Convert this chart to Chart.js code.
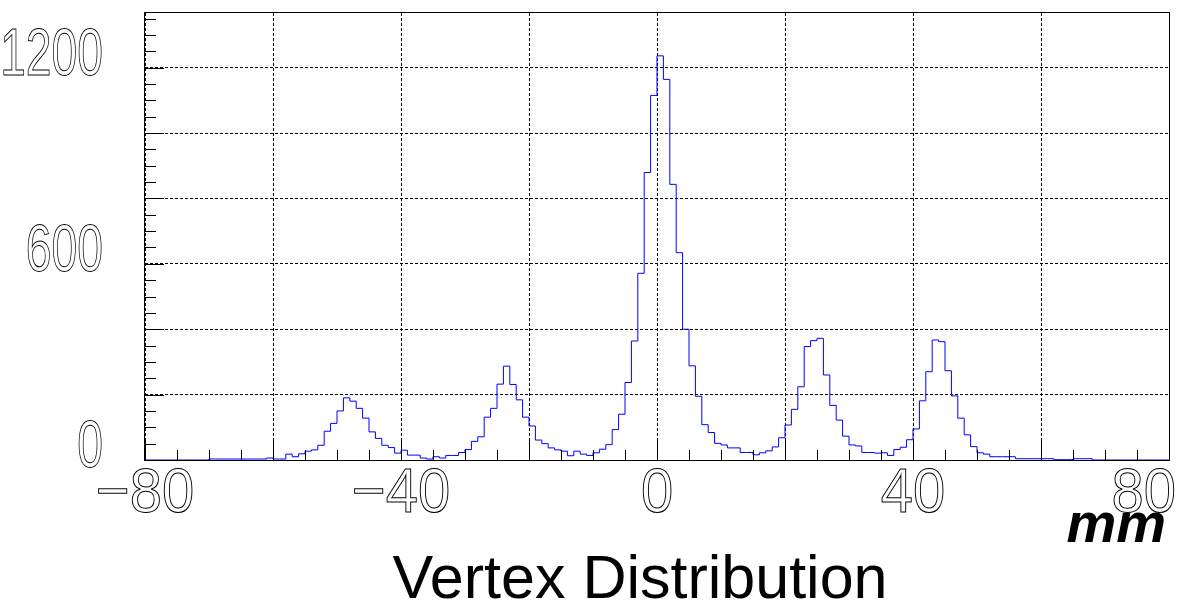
<!DOCTYPE html>
<html lang="en">
<head>
<meta charset="UTF-8">
<title>Vertex Distribution</title>
<script src="https://cdn.jsdelivr.net/npm/chart.js"></script>
<style>
  html, body { margin: 0; padding: 0; background: #fff; }
</style>
</head>
<body>
<canvas id="vtx" width="1177" height="602"></canvas>
<script>
// histogram, 1 mm bins starting at -80 mm
const binStart = -80;
const binWidth = 1;
const counts = [
  0, 0, 0, 0, 0, 0, 0, 0, 0, 0,               // -80 .. -71
  3, 3, 3, 3, 3, 3, 3, 3, 3, 6,               // -70 .. -61
  3, 3, 18, 10, 19, 27, 31, 45, 88, 112,      // -60 .. -51
  150, 190, 180, 158, 128, 86, 66, 45, 38, 21,// -50 .. -41
  30, 15, 15, 6, 3, 10, 6, 14, 14, 23,        // -40 .. -31
  32, 57, 71, 131, 158, 232, 287, 231, 184, 131, // -30 .. -21
  104, 61, 50, 37, 31, 27, 13, 27, 18, 14,    // -20 .. -11
  22, 33, 47, 93, 140, 237, 364, 571, 879, 1115, // -10 .. -1
  1236, 1164, 843, 634, 400, 288, 195, 108, 84, 51, // 0 .. 9
  46, 37, 37, 23, 23, 16, 22, 28, 40, 68,     // 10 .. 19
  107, 155, 224, 347, 365, 372, 260, 167, 122, 73, // 20 .. 29
  46, 43, 23, 23, 21, 22, 14, 32, 39, 62,     // 30 .. 39
  95, 181, 270, 367, 362, 273, 196, 128, 77, 41, // 40 .. 49
  22, 18, 10, 10, 10, 10, 4, 4, 4, 4,         // 50 .. 59
  4, 4, 1, 1, 1, 4, 4, 4, 0, 0,               // 60 .. 69
  0, 0, 0, 0, 0, 0, 0, 0, 0, 0                // 70 .. 79
];
const xGridValues = [-80, -60, -40, -20, 0, 20, 40, 60, 80];
const yGridValues = [0, 200, 400, 600, 800, 1000, 1200];
const xTickLabels = [-80, -40, 0, 40, 80];
const yTickLabels = [0, 600, 1200];
const xAxisTitle = 'mm';
const chartTitle = 'Vertex Distribution';

// step points at the low edge of each bin, plus the closing edge
const points = counts.map((c, i) => ({ x: binStart + i * binWidth, y: c }));
points.push({ x: binStart + counts.length * binWidth, y: counts[counts.length - 1] });

// outlined, narrow tick labels like the ROOT stroke font
function hollowText(ctx, str, px, py, size, sx, align) {
  ctx.save();
  ctx.font = size + 'px "Liberation Sans", Arial, sans-serif';
  const w = ctx.measureText(str).width * sx;
  let left = align === 'center' ? px - w / 2 : (align === 'right' ? px - w : px);
  if (left + w > 1176) left = 1176 - w;
  ctx.translate(left, py);
  ctx.scale(sx, 1);
  ctx.textAlign = 'left';
  ctx.textBaseline = 'alphabetic';
  ctx.strokeStyle = '#000';
  ctx.lineWidth = 1;
  ctx.strokeText(str, 0, 0);
  ctx.restore();
}

const rootFrame = {
  id: 'rootFrame',
  afterDraw(chart) {
    const { ctx, chartArea: a, scales: { x, y } } = chart;
    ctx.save();
    ctx.strokeStyle = '#000';
    ctx.lineWidth = 1;
    ctx.strokeRect(Math.round(a.left) - 0.5, Math.round(a.top) - 0.5,
      Math.round(a.right - a.left) + 1, Math.round(a.bottom - a.top) + 1);

    // ticks, drawn inward from the axes
    ctx.beginPath();
    for (let v = -80; v <= 80; v += 5) {
      const px = Math.round(x.getPixelForValue(v)) + 0.5;
      const len = v % 20 === 0 ? 20 : 10;
      ctx.moveTo(px, a.bottom);
      ctx.lineTo(px, a.bottom - len);
    }
    for (let v = 0; v <= y.max; v += 50) {
      const py = Math.round(y.getPixelForValue(v)) + 0.5;
      const len = v % 200 === 0 ? 19 : 11;
      ctx.moveTo(a.left, py);
      ctx.lineTo(a.left + len, py);
    }
    ctx.stroke();

    xTickLabels.forEach(v => {
      const label = v < 0 ? '\u2212' + Math.abs(v) : String(v);
      hollowText(ctx, label, x.getPixelForValue(v), 512, 63, 0.92, 'center');
    });
    yTickLabels.forEach(v => {
      hollowText(ctx, String(v), 103, y.getPixelForValue(v) + 7, 67, 0.69, 'right');
    });

    ctx.fillStyle = '#000';
    ctx.textBaseline = 'alphabetic';
    ctx.font = 'italic bold 56px "Liberation Sans", Arial, sans-serif';
    ctx.textAlign = 'right';
    ctx.fillText(xAxisTitle, 1166, 542);

    ctx.font = '61px "Liberation Sans", Arial, sans-serif';
    ctx.textAlign = 'center';
    ctx.fillText(chartTitle, 640, 598);
    ctx.restore();
  }
};

new Chart(document.getElementById('vtx').getContext('2d'), {
  type: 'line',
  data: {
    datasets: [{
      data: points,
      borderColor: '#0000ff',
      borderWidth: 1,
      pointRadius: 0,
      stepped: 'before',
      fill: false
    }]
  },
  options: {
    responsive: false,
    animation: false,
    layout: { padding: { left: 145, top: 13, right: 8, bottom: 142 } },
    plugins: { legend: { display: false }, tooltip: { enabled: false } },
    scales: {
      x: {
        type: 'linear', min: -80, max: 80,
        ticks: { display: false },
        afterBuildTicks: s => { s.ticks = xGridValues.map(v => ({ value: v })); },
        grid: { color: '#000', lineWidth: 1, drawTicks: false },
        border: { display: false, dash: [3, 2] },
        afterFit: s => { s.height = 0; }
      },
      y: {
        min: 0, max: 1367,
        ticks: { display: false },
        afterBuildTicks: s => { s.ticks = yGridValues.map(v => ({ value: v })); },
        grid: { color: '#000', lineWidth: 1, drawTicks: false },
        border: { display: false, dash: [3, 2] },
        afterFit: s => { s.width = 0; }
      }
    }
  },
  plugins: [rootFrame]
});
</script>
</body>
</html>
